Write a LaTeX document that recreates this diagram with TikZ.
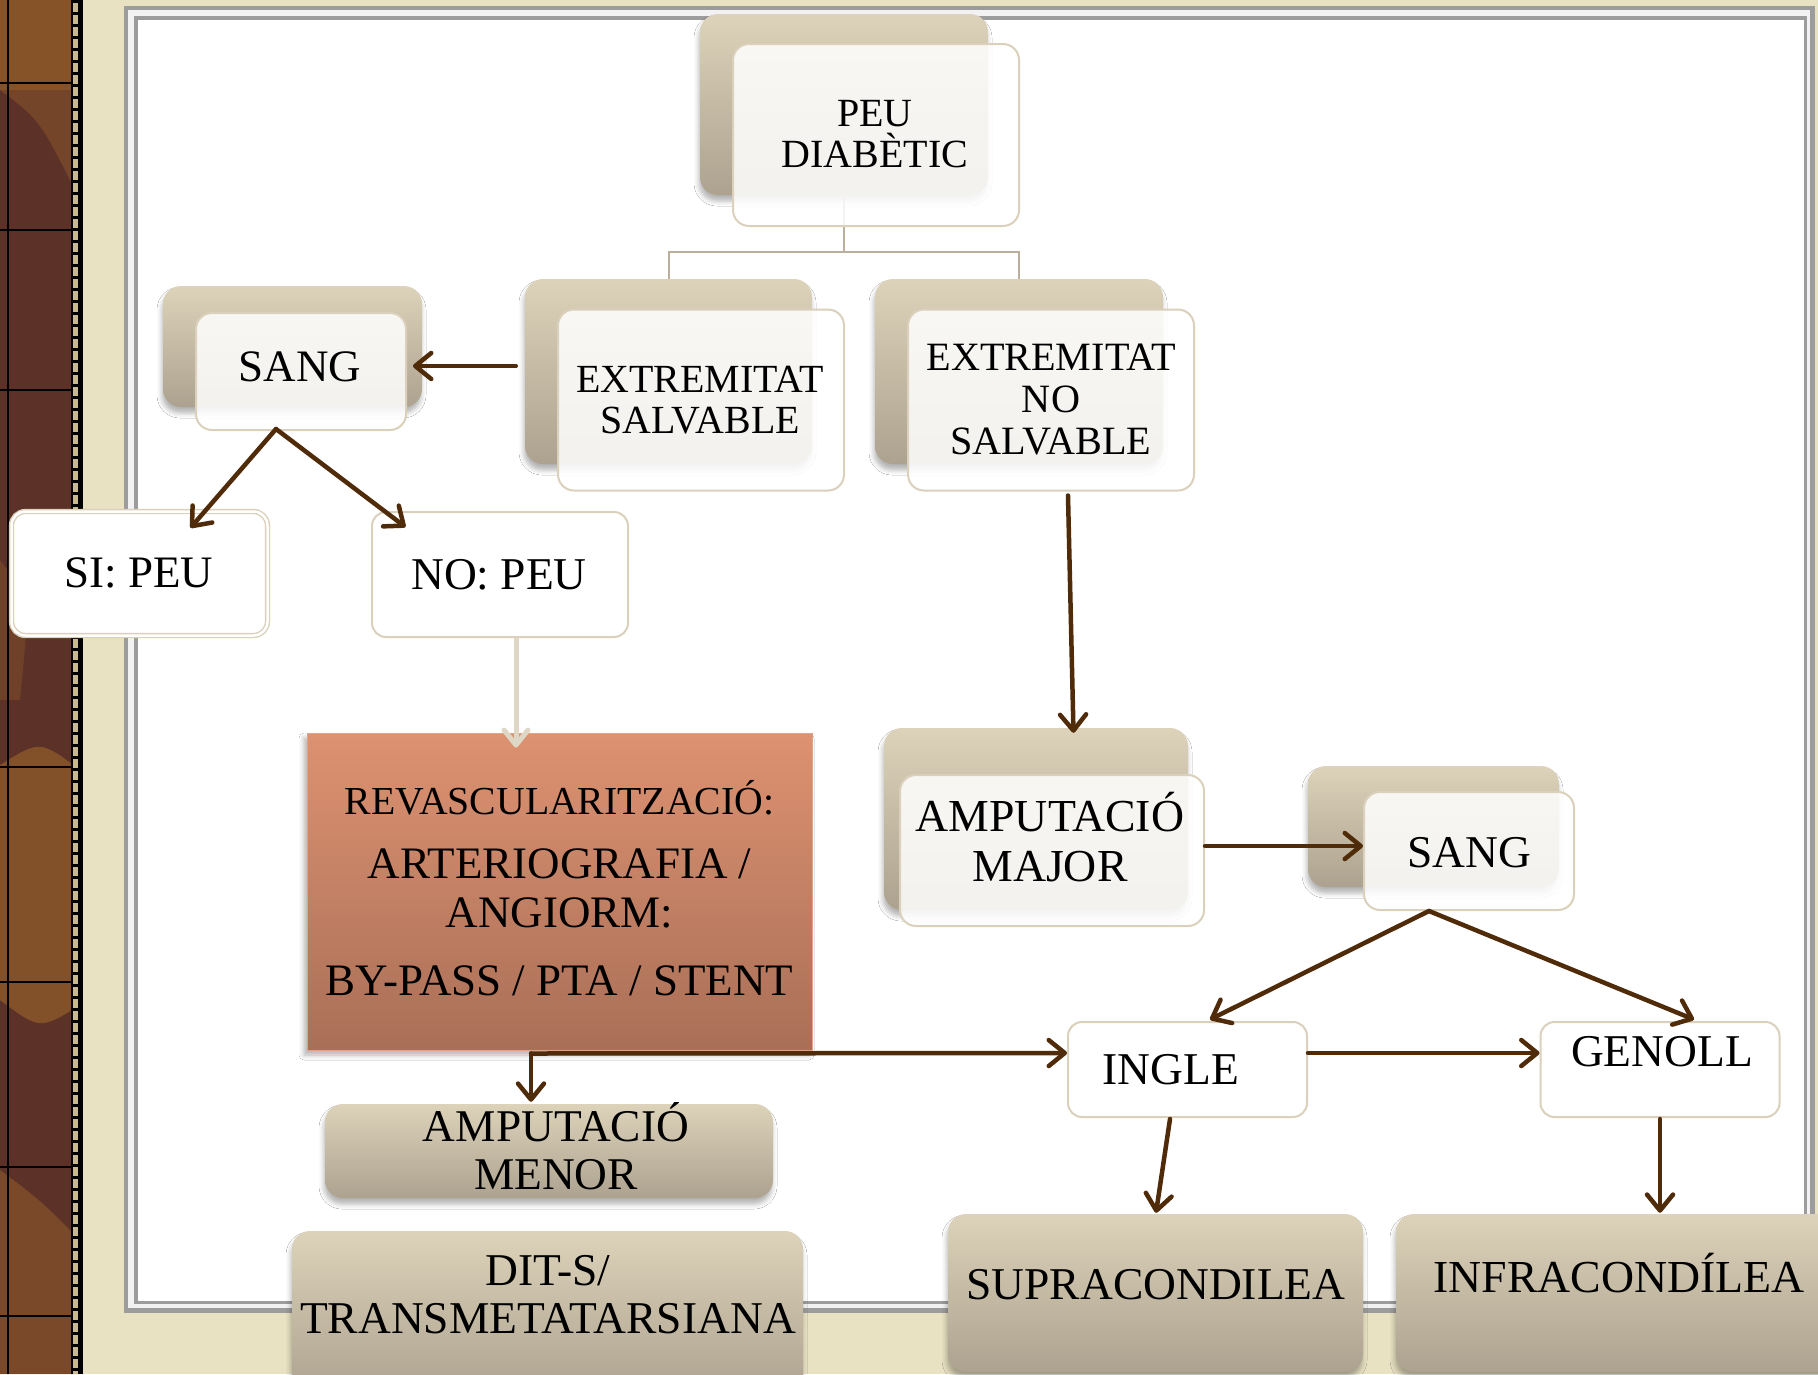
\documentclass[tikz,border=0pt]{standalone}
\usepackage{fontspec}
\setmainfont{Liberation Serif}
\usetikzlibrary{arrows.meta,shadows.blur,calc}
\definecolor{brn}{HTML}{502B0A}
\definecolor{tanT}{HTML}{DDD3BA}
\definecolor{tanB}{HTML}{ACA28F}
\definecolor{bord}{HTML}{DAD0BB}
\definecolor{treec}{HTML}{B9AF9C}
\definecolor{litearr}{HTML}{DFD7C5}
\definecolor{paper}{HTML}{E8E1C2}
\definecolor{revT}{HTML}{DD9271}
\definecolor{revB}{HTML}{A96F57}
\definecolor{frm}{HTML}{9C9C9C}
\definecolor{stripD}{HTML}{5B3128}
\definecolor{stripO}{HTML}{8E5A2A}
\definecolor{stitch}{HTML}{C9B98F}
\newcommand{\fsz}[2]{\fontsize{#1}{#2}\selectfont\lineskiplimit=-100pt\relax}
\begin{document}
\begin{tikzpicture}[x=1pt,y=-1pt,
  bx/.style 2 args={minimum width=#1pt,minimum height=#2pt},
  backbox/.style={rectangle,rounded corners=18pt,top color=tanT,bottom color=tanB,draw=none,inner sep=0pt,
     blur shadow={shadow xshift=-1pt,shadow yshift=-6pt,shadow blur radius=5pt,shadow opacity=30}},
  frontbox/.style={rectangle,rounded corners=16pt,fill=white,fill opacity=0.86,draw=bord,line width=2pt,inner sep=0pt},
  plainbox/.style={rectangle,rounded corners=14pt,fill=white,draw=bord,line width=2pt,inner sep=0pt},
  revbox/.style={rectangle,top color=revT,bottom color=revB,draw=revT!85!white,line width=1pt,inner sep=0pt,
     blur shadow={shadow xshift=-3pt,shadow yshift=-5pt,shadow blur radius=5pt,shadow opacity=30}},
  lbl/.style={inner sep=0pt,align=center,text=black},
  arr/.style={draw=brn,line width=4.5pt,line cap=round,line join=round,
     -{Straight Barb[length=16pt,width=26pt,line cap=round,line join=round]}},
  litearrow/.style={draw=litearr,line width=5pt,
     -{Straight Barb[length=15pt,width=24pt,line cap=round,line join=round]}},
  treeline/.style={draw=treec,line width=2pt}
]
\clip (0,0) rectangle (1818,1374);
% ---------- background ----------
\fill[stripD] (0,0) rectangle (80,1374);
\fill[stripO,opacity=0.85] (0,0) rectangle (80,90);
\fill[stripO,opacity=0.5] (0,90) .. controls (40,120) .. (80,200) -- (80,90) -- cycle;
\fill[stripO,opacity=0.8] (0,765) .. controls (40,740) .. (80,770) -- (80,1005) .. controls (40,1030) .. (0,1000) -- cycle;
\fill[stripO,opacity=0.6] (0,1170) .. controls (40,1200) .. (80,1240) -- (80,1374) -- (0,1374) -- cycle;
\fill[stripO,opacity=0.4] (0,560) .. controls (30,600) .. (20,700) -- (0,700) -- cycle;
\foreach \yy in {83,230,390,767,982,1167,1316}{\draw[black,line width=1.5pt] (0,\yy) -- (73,\yy);}
\draw[black,line width=1.5pt] (8,0) -- (8,1374);
\draw[black,line width=1.5pt] (72,0) -- (72,1374);
\fill[stitch] (73,0) rectangle (78,1374);
\draw[black,line width=5pt,dash pattern=on 3pt off 9pt] (75.5,0) -- (75.5,1374);
\fill[black] (78,0) rectangle (83,1374);
\fill[paper] (83,0) rectangle (1818,1374);
% ---------- frame ----------
\fill[frm] (124,6) rectangle (1815,1313);
\fill[white!90!gray] (128,10) rectangle (1810,1308);
\fill[frm] (134,16) rectangle (1807,1304);
\fill[white] (138,20) rectangle (1804,1301);
% ---------- back boxes and tan boxes ----------
\node[backbox,bx={288}{181}] (pdb) at (844,104.5) {};
\node[backbox,bx={287}{185}] (esb) at (668.5,371.5) {};
\node[backbox,bx={288}{185}] (nsb) at (1019,371.5) {};
\node[backbox,bx={259}{121}] (slb) at (292.5,346.5) {};
\node[backbox,bx={304}{182}] (amb) at (1036,819) {};
\node[backbox,bx={251}{121}] (srb) at (1433.5,826.5) {};
\node[backbox,bx={448}{94}] (amn) at (549,1151) {};
\node[backbox,bx={511}{164}] (dit) at (547.5,1313) {};
\node[backbox,bx={415}{158}] (supra) at (1155.5,1293) {};
\node[backbox,bx={448}{158}] (infra) at (1620,1293) {};
% ---------- tree ----------
\coordinate (tj) at ($(pdb.south)+(0,57)$);
\draw[treeline] (pdb.south) -- (tj);
\draw[treeline] (esb.north) |- (tj) -| (nsb.north);
% ---------- front boxes ----------
\node[frontbox,bx={286}{182}] (pdf) at (876,135) {};
\node[frontbox,bx={286}{181}] (esf) at (701,400) {};
\node[frontbox,bx={286}{181}] (nsf) at (1051,400) {};
\node[frontbox,bx={210}{117}] (slf) at (301,371.5) {};
\node[frontbox,bx={304}{151}] (amf) at (1052,850.5) {};
\node[frontbox,bx={210}{118}] (srf) at (1469,851) {};
% ---------- plain boxes ----------
\node[plainbox,bx={256}{124},draw=bord,line width=1.4pt,double=white,double distance=2.5pt] (si) at (139.5,573.5) {};
\node[plainbox,bx={256}{125}] (no) at (500,574.5) {};
\node[plainbox,bx={239}{95}] (ingle) at (1187.5,1069.5) {};
\node[plainbox,bx={239}{95}] (genoll) at (1660,1069.5) {};
\node[revbox,bx={505}{317}] (rev) at (559.5,891.5) {};
% ---------- connectors ----------
\draw[litearrow] ($(no.south)+(16,0)$) -- ($(rev.north)+(-43.5,15)$);
\draw[arr] ($(esb.west)+(-9,-5.5)$) -- ($(slf.east)+(6,-5.5)$);
\draw[arr] ($(slf.south)+(-25,-2)$) -- ($(si.north)+(51,17)$);
\draw[arr] ($(slf.south)+(-25,-2)$) -- ($(no.north)+(-94.5,16)$);
\draw[arr] ($(nsf.south)+(17,4)$) -- ($(amb.north)+(37.5,5)$);
\draw[arr] ($(amf.east)+(0,-4.5)$) -- ($(srf.west)+(0,-5)$);
\draw[arr] ($(srf.south)+(-40,0)$) -- ($(ingle.north)+(22.5,-1.5)$);
\draw[arr] ($(srf.south)+(-40,0)$) -- ($(genoll.north)+(34,-1.5)$);
\draw[arr] ($(ingle.east)+(0,-16.5)$) -- ($(genoll.west)+(0,-16.5)$);
\draw[arr] ($(ingle.south)+(-17.5,1)$) -- ($(supra.north)+(0.5,-1)$);
\draw[arr] ($(genoll.south)+(0,1)$) -- ($(infra.north)+(40,-1)$);
\coordinate (rj) at ($(rev.south)+(-28.5,3)$);
\draw[arr] (rj) -- ($(ingle.west)+(0,-16.5)$);
\draw[arr] (rj) -- ($(amn.north)+(-18,-2)$);
% ---------- texts ----------
\node[lbl,font=\fsz{40}{41}] (pdt) at (875,134.5) {PEU\\DIABÈTIC};
\node[lbl,font=\fsz{39.9}{41}] (est) at (700,400) {EXTREMITAT\\SALVABLE};
\node[lbl,font=\fsz{40.2}{42}] (nst) at (1051,399.5) {EXTREMITAT\\NO\\SALVABLE};
\node[lbl,font=\fsz{45}{50}] (slt) at (300,367) {SANG};
\node[lbl,font=\fsz{45}{50}] (sit) at (139,573) {SI: PEU};
\node[lbl,font=\fsz{45.5}{50}] (nott) at (499,574.5) {NO: PEU};
\node[lbl,font=\fsz{45}{49}] (revt) at (559.5,888) {{\fontsize{39.7}{49}\selectfont REVASCULARITZACIÓ:}\\[15pt]ARTERIOGRAFIA /\\ANGIORM:\\[19pt]BY-PASS / PTA / STENT};
\node[lbl,font=\fsz{45.4}{48}] (amnt) at (556,1146.5) {AMPUTACIÓ\\MENOR};
\node[lbl,font=\fsz{45.5}{48}] (ditt) at (548,1294.5) {DIT-S/\\TRANSMETATARSIANA};
\node[lbl,font=\fsz{45.8}{50}] (amt) at (1050,837) {AMPUTACIÓ\\MAJOR};
\node[lbl,font=\fsz{45.5}{50}] (srt) at (1469,853) {SANG};
\node[lbl,font=\fsz{45.5}{50}] (inglet) at (1171,1070) {INGLE};
\node[lbl,font=\fsz{45.5}{50}] (genollt) at (1662,1052) {GENOLL};
\node[lbl,font=\fsz{45.5}{50}] (suprat) at (1156,1285) {SUPRACONDILEA};
\node[lbl,font=\fsz{45.8}{50}] (infrat) at (1619,1273) {INFRACONDÍLEA};
\end{tikzpicture}
\end{document}
